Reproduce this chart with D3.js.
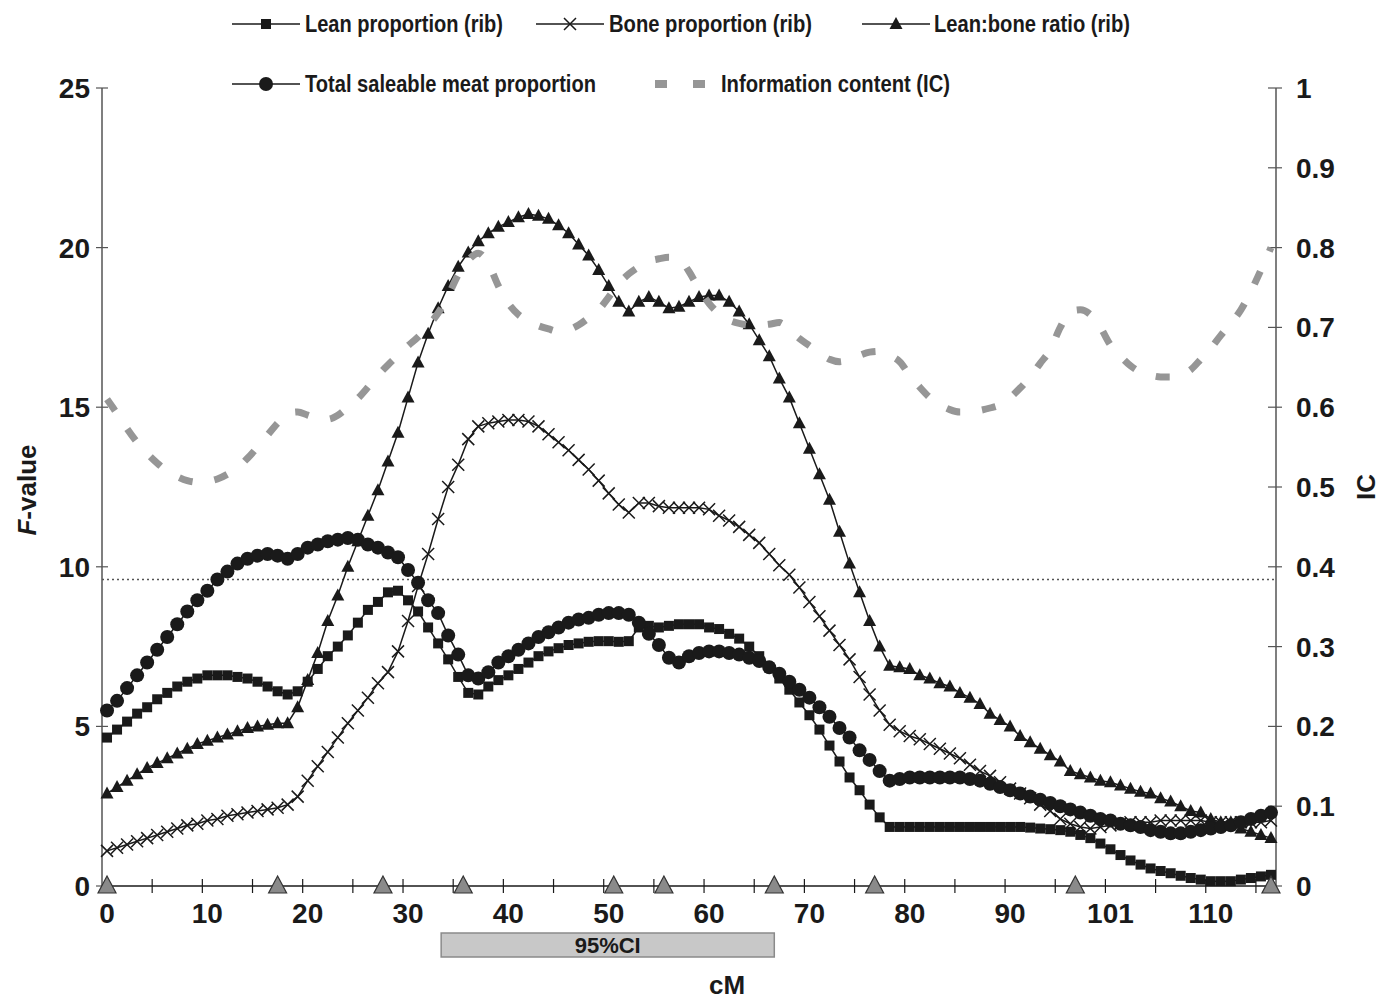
<!DOCTYPE html>
<html>
<head>
<meta charset="utf-8">
<script src="https://cdn.jsdelivr.net/npm/d3@7"></script>
<style>
  html, body { margin: 0; padding: 0; background: #fff; }
  svg { display: block; font-family: "Liberation Sans", Arial, Helvetica, sans-serif; }
</style>
</head>
<body>
<svg id="chart" width="1380" height="1002"></svg>
<script>
// ---------------- data ----------------
const cM = [0,1,2,3,4,5,6,7,8,9,10,11,12,13,14,15,16,17,18,19,20,21,22,23,24,25,26,27,28,29,
  30,31,32,33,34,35,36,37,38,39,40,41,42,43,44,45,46,47,48,49,50,51,52,53,54,55,56,57,58,59,
  60,61,62,63,64,65,66,67,68,69,70,71,72,73,74,75,76,77,78,79,80,81,82,83,84,85,86,87,88,89,
  90,91,92,93,94,95,96,97,98,99,100,101,102,103,104,105,106,107,108,109,110,111,112,113,114,115,116];

const leanProportion = [4.65,4.9,5.15,5.4,5.6,5.85,6.05,6.25,6.4,6.5,6.6,6.6,6.6,6.55,6.5,6.4,6.25,6.1,6.0,6.1,
  6.4,6.8,7.2,7.5,7.85,8.25,8.65,8.9,9.2,9.25,8.95,8.6,8.1,7.6,7.1,6.55,6.05,6.0,6.25,6.45,
  6.6,6.8,7.0,7.2,7.35,7.45,7.55,7.6,7.65,7.67,7.67,7.65,7.67,8.1,8.15,8.1,8.15,8.2,8.2,8.2,
  8.1,8.05,7.9,7.75,7.5,7.2,6.85,6.5,6.15,5.75,5.35,4.9,4.4,3.9,3.4,3.0,2.55,2.15,1.85,1.85,
  1.85,1.85,1.85,1.85,1.85,1.85,1.85,1.85,1.85,1.85,1.85,1.85,1.83,1.8,1.78,1.75,1.7,1.6,1.5,1.33,
  1.15,0.97,0.8,0.67,0.55,0.47,0.4,0.32,0.25,0.2,0.15,0.15,0.15,0.2,0.25,0.3,0.35];

const boneProportion = [1.1,1.2,1.3,1.4,1.5,1.6,1.7,1.8,1.9,1.95,2.05,2.1,2.2,2.25,2.3,2.35,2.4,2.45,2.55,2.8,
  3.3,3.75,4.2,4.65,5.1,5.5,5.9,6.35,6.7,7.35,8.3,9.4,10.4,11.5,12.5,13.2,14.0,14.4,14.5,14.55,
  14.6,14.6,14.55,14.4,14.15,13.9,13.65,13.35,13.05,12.7,12.3,11.95,11.7,12.0,12.0,11.9,11.85,11.85,11.85,11.85,
  11.8,11.6,11.45,11.25,11.0,10.75,10.4,10.05,9.75,9.35,8.9,8.45,8.0,7.55,7.1,6.55,6.0,5.5,5.05,4.85,
  4.7,4.6,4.45,4.3,4.15,4.0,3.8,3.6,3.45,3.25,3.05,2.9,2.75,2.55,2.35,2.1,1.95,1.85,1.8,1.85,
  1.9,1.95,2.0,2.0,2.0,2.05,2.05,2.05,2.05,2.05,2.0,2.0,2.0,2.0,2.0,2.0,2.05];

const leanBoneRatio = [2.9,3.1,3.3,3.5,3.7,3.85,4.0,4.15,4.3,4.45,4.55,4.65,4.75,4.85,4.95,5.0,5.05,5.1,5.1,5.6,
  6.45,7.3,8.3,9.1,10.0,10.8,11.6,12.4,13.3,14.2,15.3,16.4,17.3,18.1,18.8,19.4,19.85,20.2,20.45,20.65,
  20.8,20.95,21.05,21.0,20.9,20.7,20.45,20.1,19.75,19.3,18.8,18.3,18.0,18.3,18.45,18.3,18.1,18.15,18.3,18.45,
  18.5,18.5,18.3,18.0,17.6,17.1,16.6,15.9,15.3,14.5,13.7,12.9,12.1,11.1,10.1,9.2,8.3,7.5,6.9,6.85,
  6.8,6.6,6.5,6.35,6.25,6.05,5.9,5.7,5.4,5.2,5.0,4.7,4.5,4.3,4.1,3.9,3.6,3.5,3.4,3.3,
  3.25,3.15,3.05,2.95,2.9,2.75,2.65,2.5,2.35,2.3,2.1,2.0,2.0,1.8,1.7,1.6,1.5];

const totalSaleableMeat = [5.5,5.8,6.2,6.6,7.0,7.4,7.8,8.2,8.6,8.95,9.25,9.6,9.85,10.1,10.25,10.35,10.4,10.35,10.25,10.4,
  10.6,10.7,10.8,10.85,10.9,10.85,10.7,10.6,10.45,10.3,9.9,9.5,8.95,8.55,7.85,7.25,6.6,6.5,6.7,7.0,
  7.2,7.4,7.6,7.8,7.95,8.1,8.25,8.35,8.4,8.5,8.55,8.55,8.5,8.25,7.9,7.55,7.15,7.0,7.2,7.3,
  7.35,7.35,7.3,7.25,7.15,7.05,6.85,6.65,6.4,6.15,5.9,5.6,5.3,4.95,4.65,4.25,3.95,3.6,3.3,3.35,
  3.4,3.4,3.4,3.4,3.4,3.4,3.35,3.3,3.2,3.1,3.0,2.9,2.8,2.7,2.6,2.5,2.4,2.3,2.2,2.1,
  2.05,1.95,1.9,1.85,1.75,1.7,1.65,1.65,1.7,1.75,1.8,1.85,1.9,2.0,2.1,2.2,2.3];

const informationContent = [0.610,0.592,0.573,0.556,0.542,0.530,0.520,0.513,0.508,0.506,0.507,0.510,0.516,0.524,0.536,0.550,0.565,0.580,0.592,0.594,
  0.590,0.586,0.585,0.590,0.600,0.611,0.625,0.640,0.653,0.665,0.677,0.688,0.702,0.718,0.740,0.766,0.784,0.793,0.780,0.752,
  0.730,0.716,0.708,0.702,0.698,0.695,0.697,0.703,0.712,0.722,0.738,0.755,0.767,0.776,0.783,0.786,0.788,0.786,0.770,0.748,
  0.730,0.717,0.709,0.705,0.703,0.703,0.704,0.706,0.697,0.686,0.677,0.668,0.660,0.657,0.660,0.665,0.669,0.670,0.665,0.657,
  0.640,0.625,0.612,0.603,0.597,0.594,0.594,0.596,0.599,0.603,0.612,0.624,0.638,0.655,0.672,0.700,0.720,0.722,0.716,0.700,
  0.678,0.664,0.652,0.644,0.640,0.638,0.638,0.640,0.647,0.660,0.674,0.690,0.705,0.722,0.745,0.772,0.800];

const markerPositions = [0, 17, 27.5, 35.5, 50.5, 55.5, 66.5, 76.5, 96.5, 116];
const ciRange = [33.3, 66.5];
const thresholdF = 9.6;

const xTickValues = [0,10,20,30,40,50,60,70,80,90,100,110];
const xTickLabels = ["0","10","20","30","40","50","60","70","80","90","101","110"];
const yLeftTicks = [0,5,10,15,20,25];
const yRightTicks = [0,0.1,0.2,0.3,0.4,0.5,0.6,0.7,0.8,0.9,1];

const seriesNames = ["Lean proportion (rib)","Bone proportion (rib)","Lean:bone ratio (rib)",
  "Total saleable meat proportion","Information content (IC)"];

// ---------------- layout ----------------
const svg = d3.select("#chart");
const L = 102, R = 1276, T = 88, B = 886;
const x = d3.scaleLinear().domain([-0.5, 116.5]).range([L, R]);
const yF = d3.scaleLinear().domain([0, 25]).range([B, T]);
const yIC = d3.scaleLinear().domain([0, 1]).range([B, T]);
const ink = "#1a1a1a";

// axes lines
const axG = svg.append("g");
axG.append("line").attr("x1", L).attr("x2", L).attr("y1", T).attr("y2", B).attr("stroke", "#555").attr("stroke-width", 1.5);
axG.append("line").attr("x1", R).attr("x2", R).attr("y1", T).attr("y2", B).attr("stroke", "#555").attr("stroke-width", 1.5);

// left ticks
yLeftTicks.forEach(v => {
  axG.append("line").attr("x1", L - 6).attr("x2", L + 6).attr("y1", yF(v)).attr("y2", yF(v)).attr("stroke", "#555").attr("stroke-width", 1.2);
  axG.append("text").attr("x", L - 12).attr("y", yF(v)).attr("dy", "0.36em").attr("text-anchor", "end")
    .attr("font-size", 28).attr("font-weight", "bold").attr("fill", ink).text(v);
});
// right ticks
yRightTicks.forEach(v => {
  axG.append("line").attr("x1", R - 8).attr("x2", R + 6).attr("y1", yIC(v)).attr("y2", yIC(v)).attr("stroke", "#555").attr("stroke-width", 1.2);
  axG.append("text").attr("x", R + 20).attr("y", yIC(v)).attr("dy", "0.36em").attr("text-anchor", "start")
    .attr("font-size", 28).attr("font-weight", "bold").attr("fill", ink).text(v);
});

// threshold dotted
svg.append("line").attr("x1", L).attr("x2", R).attr("y1", yF(thresholdF)).attr("y2", yF(thresholdF))
  .attr("stroke", "#555").attr("stroke-width", 1.6).attr("stroke-dasharray", "2,3");

// ---------------- series ----------------
const lineF = vals => d3.line().x((d, i) => x(cM[i])).y(d => yF(d))(vals);
const plot = svg.append("g");

function drawSeries(vals, marker) {
  const g = plot.append("g");
  g.append("path").attr("d", lineF(vals)).attr("fill", "none").attr("stroke", ink).attr("stroke-width", 1.5);
  const pts = g.selectAll("g.pt").data(vals).join("g")
    .attr("transform", (d, i) => `translate(${x(cM[i])},${yF(d)})`);
  marker(pts);
}
const sq = sel => sel.append("rect").attr("x", -5).attr("y", -5).attr("width", 10).attr("height", 10).attr("fill", ink);
const cross = sel => sel.append("path").attr("d", "M-6,-6L6,6M-6,6L6,-6").attr("stroke", ink).attr("stroke-width", 1.5).attr("fill", "none");
const tri = sel => sel.append("path").attr("d", "M0,-7L6.5,5L-6.5,5Z").attr("fill", ink);
const circ = sel => sel.append("circle").attr("r", 7).attr("fill", ink);

drawSeries(leanProportion, sq);
drawSeries(boneProportion, cross);
drawSeries(leanBoneRatio, tri);
drawSeries(totalSaleableMeat, circ);

// IC dashed
plot.append("path")
  .attr("d", d3.line().x((d, i) => x(cM[i])).y(d => yIC(d)).curve(d3.curveMonotoneX)(informationContent))
  .attr("fill", "none").attr("stroke", "#969696").attr("stroke-width", 7)
  .attr("stroke-dasharray", "14,22");

// x axis
const xg = svg.append("g");
xg.append("line").attr("x1", L).attr("x2", R).attr("y1", B).attr("y2", B).attr("stroke", ink).attr("stroke-width", 1.5);
d3.range(1, 24).forEach(k => {
  const xv = x(k * 5 - 0.5);
  xg.append("line").attr("x1", xv).attr("x2", xv).attr("y1", B - 7).attr("y2", B + 7).attr("stroke", ink).attr("stroke-width", 1.2);
});
xTickValues.forEach((v, i) => {
  xg.append("text").attr("x", x(v)).attr("y", B + 27).attr("dy", "0.36em").attr("text-anchor", "middle")
    .attr("font-size", 28).attr("font-weight", "bold").attr("fill", ink).text(xTickLabels[i]);
});
// marker triangles on axis
markerPositions.forEach(p => {
  const cx = x(p);
  xg.append("path").attr("d", `M${cx},${B - 10}L${cx + 9},${B + 7}L${cx - 9},${B + 7}Z`)
    .attr("fill", "#8a8a8a").attr("stroke", "#333").attr("stroke-width", 1.2);
});

// CI box
svg.append("rect").attr("x", x(ciRange[0])).attr("y", 933).attr("width", x(ciRange[1]) - x(ciRange[0])).attr("height", 24)
  .attr("fill", "#c8c8c8").attr("stroke", "#8a8a8a").attr("stroke-width", 1.5);
svg.append("text").attr("x", (x(ciRange[0]) + x(ciRange[1])) / 2).attr("y", 945).attr("dy", "0.36em")
  .attr("text-anchor", "middle").attr("font-size", 22).attr("font-weight", "bold").attr("fill", ink)
  .text("95%CI");

// axis titles
svg.append("text").attr("x", 727).attr("y", 985).attr("dy", "0.36em").attr("text-anchor", "middle")
  .attr("font-size", 26).attr("font-weight", "bold").attr("fill", ink).text("cM");
const ft = svg.append("text").attr("transform", "translate(27,490) rotate(-90)").attr("text-anchor", "middle")
  .attr("dy", "0.36em").attr("font-size", 26).attr("font-weight", "bold").attr("fill", ink);
ft.append("tspan").attr("font-style", "italic").text("F");
ft.append("tspan").text("-value");
svg.append("text").attr("transform", "translate(1366,487) rotate(-90)").attr("text-anchor", "middle")
  .attr("dy", "0.36em").attr("font-size", 26).attr("font-weight", "bold").attr("fill", ink).text("IC");

// ---------------- legend ----------------
const leg = svg.append("g");
const legendItems = [
  { name: seriesNames[0], x0: 232, y: 24, tx: 305, tw: 198, m: sq },
  { name: seriesNames[1], x0: 536, y: 24, tx: 609, tw: 203, m: cross },
  { name: seriesNames[2], x0: 862, y: 24, tx: 934, tw: 196, m: tri },
  { name: seriesNames[3], x0: 232, y: 84, tx: 305, tw: 291, m: circ }
];
legendItems.forEach(it => {
  leg.append("line").attr("x1", it.x0).attr("x2", it.x0 + 68).attr("y1", it.y).attr("y2", it.y).attr("stroke", ink).attr("stroke-width", 1.5);
  const mg = leg.append("g").attr("transform", `translate(${it.x0 + 34},${it.y})`);
  it.m(mg);
  leg.append("text").attr("x", it.tx).attr("y", it.y).attr("dy", "0.36em").attr("font-size", 23).attr("font-weight", "bold")
    .attr("fill", ink).attr("textLength", it.tw).attr("lengthAdjust", "spacingAndGlyphs").text(it.name);
});
leg.append("line").attr("x1", 655).attr("x2", 705).attr("y1", 84).attr("y2", 84).attr("stroke", "#969696")
  .attr("stroke-width", 8).attr("stroke-dasharray", "12,26");
leg.append("text").attr("x", 721).attr("y", 84).attr("dy", "0.36em").attr("font-size", 23).attr("font-weight", "bold")
  .attr("fill", ink).attr("textLength", 229).attr("lengthAdjust", "spacingAndGlyphs").text(seriesNames[4]);
</script>
</body>
</html>
